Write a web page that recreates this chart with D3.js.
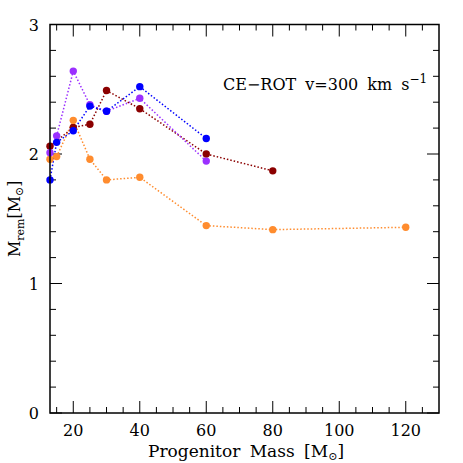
<!DOCTYPE html>
<html>
<head>
<meta charset="utf-8">
<script src="https://cdn.jsdelivr.net/npm/d3@7"></script>
<style>
  body { margin: 0; background: #fff; }
  text { font-family: "DejaVu Serif", serif; }
</style>
</head>
<body>
<script>
// remnant mass vs progenitor mass, one array per model
const redMass = [13, 20, 25, 30, 40, 60, 80]
const redRem = [2.06, 2.205, 2.23, 2.49, 2.35, 2.00, 1.87]
const orangeMass = [13, 15, 20, 25, 30, 40, 60, 80, 120]
const orangeRem = [1.96, 1.98, 2.26, 1.96, 1.80, 1.82, 1.447, 1.416, 1.434]
const purpleMass = [13, 15, 20, 25, 30, 40, 60]
const purpleRem = [2.01, 2.14, 2.64, 2.38, 2.33, 2.43, 1.945]
const blueMass = [13, 15, 20, 25, 30, 40, 60]
const blueRem = [1.80, 2.09, 2.18, 2.37, 2.33, 2.52, 2.12]
const xTicks = [20, 40, 60, 80, 100, 120]
const yTicks = [0, 1, 2, 3]

const series = [
  { mass: redMass, rem: redRem, color: '#8b0000' },
  { mass: orangeMass, rem: orangeRem, color: '#ff8c2e' },
  { mass: purpleMass, rem: purpleRem, color: '#9b30ff' },
  { mass: blueMass, rem: blueRem, color: '#0000ff' }
]

const W = 463, H = 463
const plotL = 50, plotR = 439, plotT = 24.5, plotB = 413

const svg = d3.select('body').append('svg')
  .attr('width', W)
  .attr('height', H)

const x = d3.scaleLinear().domain([13, 130]).range([plotL, plotR])
const y = d3.scaleLinear().domain([0, 3]).range([plotB, plotT])

// ticks on all four sides, pointing inwards
const xMinor = d3.range(15, 130, 5)
const yMinor = d3.range(0, 3.001, 0.2)
const g = svg.append('g').attr('stroke', '#000').attr('stroke-width', 1)

g.selectAll('.xb').data(xMinor).enter().append('line')
  .attr('x1', d => x(d)).attr('x2', d => x(d))
  .attr('y1', plotB).attr('y2', d => plotB - (d % 20 === 0 ? 12 : 6))
g.selectAll('.xt').data(xMinor).enter().append('line')
  .attr('x1', d => x(d)).attr('x2', d => x(d))
  .attr('y1', plotT).attr('y2', d => plotT + (d % 20 === 0 ? 12 : 6))
g.selectAll('.yl').data(yMinor).enter().append('line')
  .attr('y1', d => y(d)).attr('y2', d => y(d))
  .attr('x1', plotL).attr('x2', (d, i) => plotL + (i % 5 === 0 ? 12 : 6))
g.selectAll('.yr').data(yMinor).enter().append('line')
  .attr('y1', d => y(d)).attr('y2', d => y(d))
  .attr('x1', plotR).attr('x2', (d, i) => plotR - (i % 5 === 0 ? 12 : 6))

// data lines and points
const line = d3.line().x(d => x(d[0])).y(d => y(d[1]))
series.forEach(s => {
  const pts = s.mass.map((m, i) => [m, s.rem[i]])
  svg.append('path')
    .attr('d', line(pts))
    .attr('fill', 'none')
    .attr('stroke', s.color)
    .attr('stroke-width', 1.5)
    .attr('stroke-dasharray', '1.5,2')
})
series.forEach(s => {
  svg.append('g').selectAll('circle')
    .data(s.mass.map((m, i) => [m, s.rem[i]]))
    .enter().append('circle')
    .attr('cx', d => x(d[0]))
    .attr('cy', d => y(d[1]))
    .attr('r', 3.7)
    .attr('fill', s.color)
})

svg.append('rect')
  .attr('x', plotL).attr('y', plotT)
  .attr('width', plotR - plotL).attr('height', plotB - plotT)
  .attr('fill', 'none').attr('stroke', '#000').attr('stroke-width', 1.5)

// tick labels
svg.selectAll('.xl').data(xTicks).enter().append('text')
  .attr('x', d => x(d)).attr('y', 436)
  .attr('text-anchor', 'middle')
  .attr('font-size', 16)
  .text(d => d)
svg.selectAll('.ylab').data(yTicks).enter().append('text')
  .attr('x', 39).attr('y', d => y(d) + 6)
  .attr('text-anchor', 'end')
  .attr('font-size', 16)
  .text(d => d)

// axis titles
const xt = svg.append('text')
  .attr('x', 246).attr('y', 457)
  .attr('text-anchor', 'middle')
  .attr('font-size', 17)
  .attr('word-spacing', 4)
xt.append('tspan').text('Progenitor Mass [M')
xt.append('tspan').attr('font-size', 11).attr('dy', 3).text('⊙')
xt.append('tspan').attr('dy', -3).text(']')

const yt = svg.append('text')
  .attr('transform', `translate(20,${(plotT + plotB) / 2}) rotate(-90)`)
  .attr('text-anchor', 'middle')
  .attr('font-size', 16)
yt.append('tspan').text('M')
yt.append('tspan').attr('font-size', 11).attr('dy', 4).text('rem')
yt.append('tspan').attr('dy', -4).text('[M')
yt.append('tspan').attr('font-size', 11).attr('dy', 3).text('⊙')
yt.append('tspan').attr('dy', -3).text(']')

// annotation
const ann = svg.append('text')
  .attr('x', 223).attr('y', 90)
  .attr('font-size', 16)
  .attr('word-spacing', 4)
ann.append('tspan').text('CE−ROT v=300 km s')
ann.append('tspan').attr('font-size', 12).attr('dy', -7).text('−1')
</script>
</body>
</html>
